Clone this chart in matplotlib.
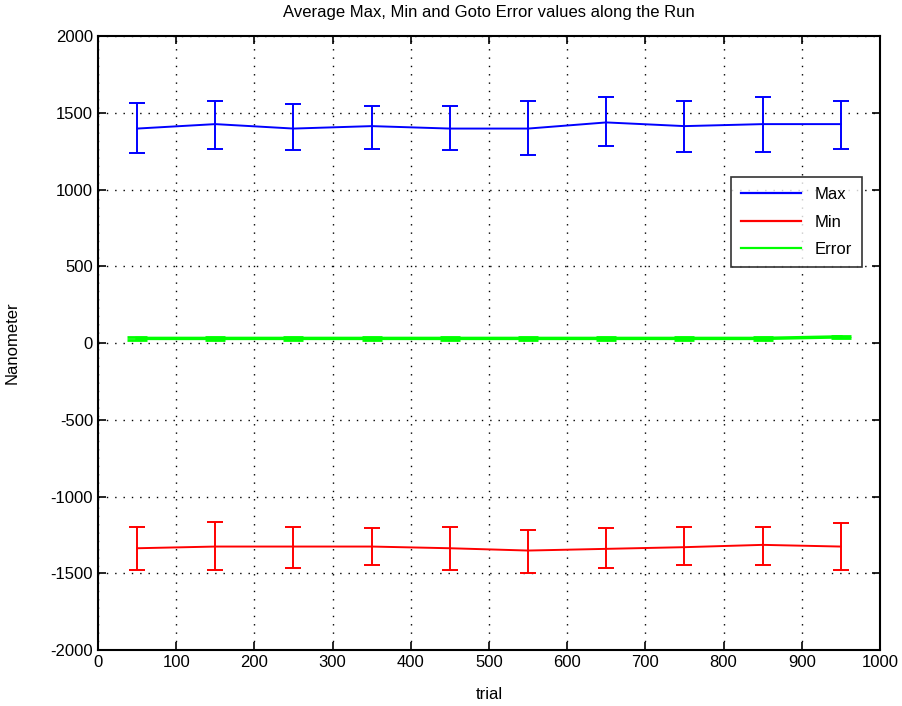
import matplotlib
matplotlib.use("Agg")
import matplotlib.pyplot as plt
from matplotlib.lines import Line2D
import numpy as np

plt.rcParams['font.family'] = ['Liberation Sans Narrow', 'Liberation Sans', 'DejaVu Sans']
plt.rcParams['axes.unicode_minus'] = False

# ---------------------------------------------------------------------------
# data
# ---------------------------------------------------------------------------
trials = [50, 150, 250, 350, 450, 550, 650, 750, 850, 950]

max_mean = [1397, 1426, 1397, 1413, 1397, 1397, 1437, 1413, 1426, 1426]
max_upper = [1565, 1577, 1556, 1545, 1545, 1577, 1604, 1577, 1604, 1577]
max_lower = [1235, 1267, 1256, 1267, 1256, 1224, 1283, 1246, 1246, 1267]

min_mean = [-1337, -1326, -1326, -1326, -1337, -1352, -1341, -1330, -1315, -1326]
min_upper = [-1196, -1163, -1196, -1206, -1196, -1217, -1206, -1196, -1196, -1174]
min_lower = [-1478, -1478, -1467, -1445, -1478, -1499, -1467, -1445, -1445, -1478]

err_mean = [30, 30, 30, 30, 30, 30, 30, 30, 30, 40]
err_spread = [8, 8, 8, 8, 8, 8, 8, 8, 8, 8]

colors = {"Max": "#0000ff", "Min": "#ff0000", "Error": "#00ff00"}


def draw(ax, x, mean, lo, hi, color):
    mean = np.asarray(mean, dtype=float)
    yerr = [mean - np.asarray(lo), np.asarray(hi) - mean]
    ax.errorbar(x, mean, yerr=yerr, color=color, lw=1.4, capsize=6,
                capthick=1.4, elinewidth=1.4, zorder=3)


fig = plt.figure(figsize=(9.03, 7.06), dpi=100)
ax = fig.add_axes([0.1085, 0.0793, 0.866, 0.8697])

draw(ax, trials, max_mean, max_lower, max_upper, colors["Max"])
draw(ax, trials, min_mean, min_lower, min_upper, colors["Min"])
ax.errorbar(trials, err_mean, yerr=err_spread, color=colors["Error"], lw=2.5,
            capsize=7, capthick=2.0, elinewidth=2.0, zorder=3)

ax.set_xlim(0, 1000)
ax.set_ylim(-2000, 2000)
ax.set_xticks(range(0, 1001, 100))
ax.set_yticks(range(-2000, 2001, 500))
ax.grid(True, color="black", linestyle=(0, (1, 5)), linewidth=1.0)
ax.tick_params(direction="in", top=True, right=True, length=6,
               width=1.2, labelsize=12)
for s in ax.spines.values():
    s.set_linewidth(1.5)

ax.set_title("Average Max, Min and Goto Error values along the Run",
             fontsize=12, pad=14)
ax.set_xlabel("trial", fontsize=12, labelpad=12)
ax.set_ylabel("Nanometer", fontsize=12, labelpad=22)

# legend shows plain lines, no error bar glyphs
handles = [Line2D([], [], color=c, lw=1.6) for c in colors.values()]
leg = ax.legend(handles, list(colors.keys()), loc="upper right",
                bbox_to_anchor=(0.977, 0.770), borderaxespad=0,
                fancybox=False, edgecolor="black", fontsize=12,
                handlelength=3.6, borderpad=0.6, labelspacing=0.75)
leg.get_frame().set_linewidth(1.2)

fig.savefig("out.png", dpi=100)
